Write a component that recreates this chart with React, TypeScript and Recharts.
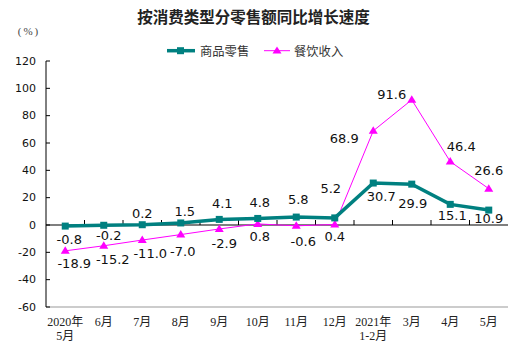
import React from 'react';
import { LineChart, Line, XAxis, YAxis, ReferenceLine } from 'recharts';

const title = '按消费类型分零售额同比增长速度';
const unitLabel = '(%)';
const seriesNames = ['商品零售', '餐饮收入'];
const categories = ['2020年\n5月', '6月', '7月', '8月', '9月', '10月', '11月', '12月', '2021年\n1-2月', '3月', '4月', '5月'];
const retailSales = [-0.8, -0.2, 0.2, 1.5, 4.1, 4.8, 5.8, 5.2, 30.7, 29.9, 15.1, 10.9];
const cateringIncome = [-18.9, -15.2, -11.0, -7.0, -2.9, 0.8, -0.6, 0.4, 68.9, 91.6, 46.4, 26.6];
const yTicks = [-60, -40, -20, 0, 20, 40, 60, 80, 100, 120];

// label placement (dx, dy) relative to each point — styling only
const retailLabelOffsets: [number, number][] = [[4, 13], [5, 10], [0, -11], [4, -11], [3, -16], [2, -16], [2, -18], [-4, -29], [8, 13], [1, 19], [2, 11], [0, 8]];
const cateringLabelOffsets: [number, number][] = [[9, 13], [9, 14], [8, 13], [2, 17], [5, 15], [2, 13], [7, 16], [0, 12], [-29, 8], [-20, -5], [11, -15], [0, -18]];

const TEAL = '#008080';
const MAGENTA = '#FF00FF';
const BORDER = '#999999';
const HALF_BAND = 19.25;

const data = categories.map((c, i) => ({ cat: c, retail: retailSales[i], catering: cateringIncome[i] }));

const SquareDot = (p: any) => {
  if (p.cx == null || p.cy == null) return <g key={`sq${p.index}`} />;
  return <rect key={`sq${p.index}`} x={p.cx - 3.5} y={p.cy - 3.5} width={7} height={7} fill={TEAL} />;
};

const TriangleDot = (p: any) => {
  if (p.cx == null || p.cy == null) return <g key={`tr${p.index}`} />;
  const { cx, cy } = p;
  return <polygon key={`tr${p.index}`} points={`${cx},${cy - 4.5} ${cx - 4.5},${cy + 3} ${cx + 4.5},${cy + 3}`} fill={MAGENTA} />;
};

const makeLabel = (offsets: [number, number][]) => (p: any) => {
  const { x, y, value, index } = p;
  if (x == null || y == null) return null;
  const [dx, dy] = offsets[index] || [0, -12];
  return (
    <text key={`lb${index}`} x={x + dx} y={y + dy} textAnchor="middle" dominantBaseline="central"
      fontFamily="'DejaVu Sans', sans-serif" fontSize={13} fill="#111">
      {Number(value).toFixed(1)}
    </text>
  );
};

const YTick = (p: any) => {
  const { x, y, payload } = p;
  return (
    <g>
      <line x1={x} y1={y} x2={x + 4} y2={y} stroke="#000" strokeWidth={1} />
      <text x={x - 10} y={y} textAnchor="end" dominantBaseline="central"
        fontFamily="'DejaVu Sans', sans-serif" fontSize={11} fill="#111">
        {payload.value}
      </text>
    </g>
  );
};

const XTick = (p: any) => {
  const { x, y, payload } = p;
  const lines = String(payload.value).split('\n');
  return (
    <g>
      {lines.map((ln, i) => (
        <text key={i} x={x} y={y + 15 + i * 14} textAnchor="middle" dominantBaseline="central"
          fontFamily="'Liberation Serif', 'Noto Sans CJK SC', serif" fontSize={12} fill="#222">
          {ln}
        </text>
      ))}
    </g>
  );
};

const ZeroLine = (p: any) => {
  const { x1, y1, x2 } = p;
  if (x1 == null) return <g />;
  const n = categories.length;
  const step = (x2 - x1) / n;
  const ticks = [];
  for (let k = 1; k < n; k++) {
    const tx = x1 + k * step;
    ticks.push(<line key={k} x1={tx} y1={y1 - 5} x2={tx} y2={y1} stroke="#000" strokeWidth={1} />);
  }
  return (
    <g>
      <line x1={x1} y1={y1} x2={x2} y2={y1} stroke="#000" strokeWidth={1.2} />
      {ticks}
    </g>
  );
};

export default function App() {
  return (
    <div style={{ position: 'absolute', left: 0, top: 0, width: 532, height: 364, background: '#fff' }}>
      <LineChart width={532} height={364} data={data} margin={{ top: 61, right: 24, bottom: 0, left: 0 }}>
        <XAxis dataKey="cat" height={57} axisLine={{ stroke: BORDER }} tickLine={false} tickSize={0} tickMargin={0}
          tick={<XTick />} interval={0} padding={{ left: HALF_BAND, right: HALF_BAND }} />
        <XAxis xAxisId="top" dataKey="cat" orientation="top" height={0} axisLine={{ stroke: BORDER }} tick={false} tickLine={false} />
        <YAxis domain={[-60, 120]} ticks={yTicks} width={46} axisLine={{ stroke: '#000' }} tickLine={false}
          tickSize={0} tickMargin={0} tick={<YTick />} interval={0} allowDataOverflow />
        <YAxis yAxisId="right" orientation="right" domain={[-60, 120]} width={0} axisLine={{ stroke: BORDER }} tick={false} tickLine={false} />
        <ReferenceLine y={0} shape={<ZeroLine />} />
        <Line dataKey="catering" name={seriesNames[1]} type="linear" stroke={MAGENTA} strokeWidth={1}
          dot={<TriangleDot />} activeDot={false} isAnimationActive={false} label={makeLabel(cateringLabelOffsets)} />
        <Line dataKey="retail" name={seriesNames[0]} type="linear" stroke={TEAL} strokeWidth={3.5}
          dot={<SquareDot />} activeDot={false} isAnimationActive={false} label={makeLabel(retailLabelOffsets)} />
      </LineChart>
      <svg width={532} height={64} style={{ position: 'absolute', left: 0, top: 0, pointerEvents: 'none' }}>
        <text x={253.5} y={16} textAnchor="middle" dominantBaseline="central"
          fontFamily="'Noto Sans CJK SC', sans-serif" fontWeight="bold" fontSize={15.5} fill="#222">{title}</text>
        <text x={29} y={31} textAnchor="middle" dominantBaseline="central"
          fontFamily="'Liberation Serif', serif" fontSize={11} fill="#444" letterSpacing={2}>{unitLabel}</text>
        <line x1={167} y1={50.7} x2={195} y2={50.7} stroke={TEAL} strokeWidth={3.5} />
        <rect x={177} y={47.2} width={7} height={7} fill={TEAL} />
        <text x={200} y={51} dominantBaseline="central" fontFamily="'Noto Sans CJK SC', sans-serif" fontSize={12.3} fill="#333">{seriesNames[0]}</text>
        <line x1={264} y1={50.7} x2={290} y2={50.7} stroke={MAGENTA} strokeWidth={1} />
        <polygon points="277,46.5 272.5,53.5 281.5,53.5" fill={MAGENTA} />
        <text x={294} y={51} dominantBaseline="central" fontFamily="'Noto Sans CJK SC', sans-serif" fontSize={12.3} fill="#333">{seriesNames[1]}</text>
      </svg>
    </div>
  );
}
